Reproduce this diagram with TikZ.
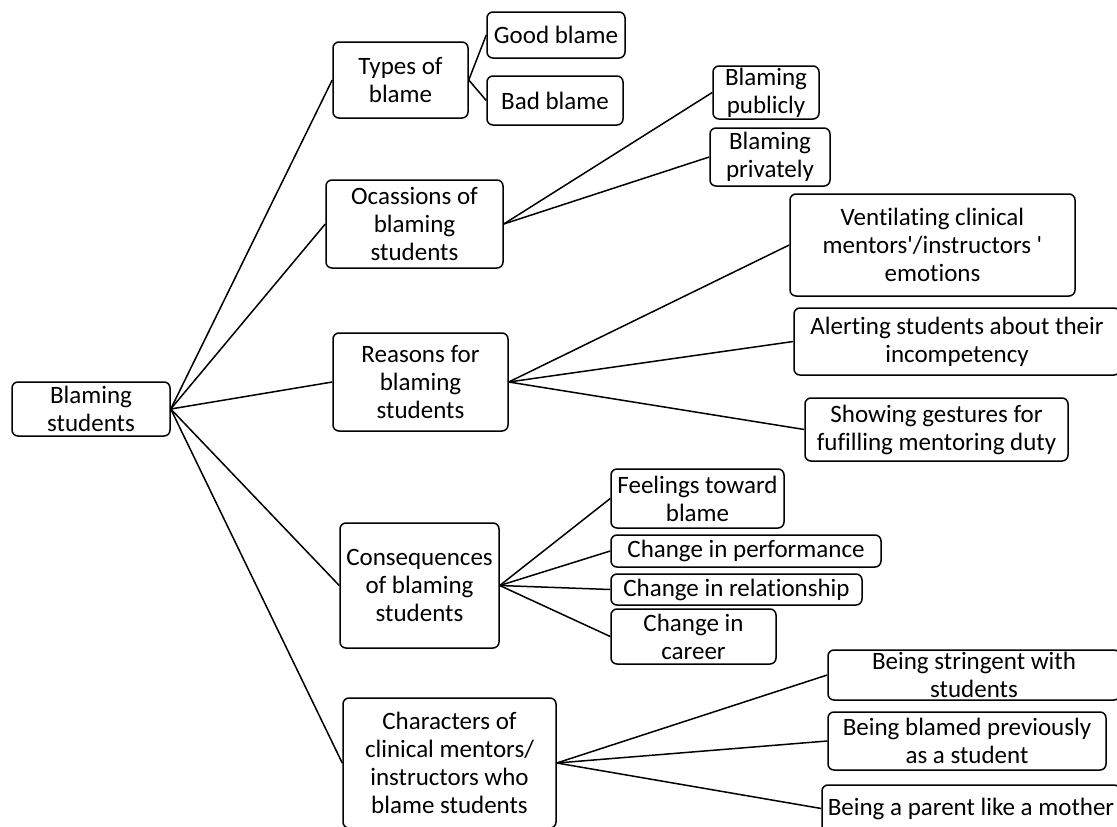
\documentclass[tikz,border=0pt]{standalone}
\usepackage{fontspec}
\setmainfont[Ligatures={NoCommon}]{Carlito}
\begin{document}
\begin{tikzpicture}[x=1pt,y=-1pt,
  box/.style={draw=black,line width=1.5pt,rounded corners=6pt,align=center,
    inner sep=0pt,font=\fontsize{25}{28}\selectfont},
  link/.style={draw=black,line width=1.5pt}]
\useasboundingbox (0,0) rectangle (1117,827);
\node[box,minimum width=158pt,minimum height=54pt] (root) at (91,409) {Blaming\\students};
\node[box,minimum width=135pt,minimum height=76pt] (types) at (400.5,80) {Types of\\blame};
\node[box,minimum width=138pt,minimum height=46pt] (good) at (556,35) {Good blame};
\node[box,minimum width=136pt,minimum height=49pt] (bad) at (555,100.5) {Bad blame};
\node[box,minimum width=177pt,minimum height=88pt] (occ) at (414.5,224) {Ocassions of\\blaming\\students};
\node[box,minimum width=106pt,minimum height=53pt] (pub) at (766,92.5) {Blaming\\publicly};
\node[box,minimum width=120pt,minimum height=58pt] (priv) at (770,157) {Blaming\\privately};
\node[box,minimum width=175pt,minimum height=98pt] (reas) at (420.5,382) {Reasons for\\blaming\\students};
\node[box,minimum width=285pt,minimum height=102pt] (vent) at (932.5,245) {Ventilating clinical\\mentors\textquotesingle/instructors \textquotesingle\\emotions};
\node[box,minimum width=326pt,minimum height=67pt] (alert) at (957,341.5) {Alerting students about their\\incompetency};
\node[box,minimum width=263pt,minimum height=63pt] (show) at (936.5,429.5) {Showing gestures for\\fufilling mentoring duty};
\node[box,minimum width=159pt,minimum height=125pt] (cons) at (419.5,585.5) {Consequences\\of blaming\\students};
\node[box,minimum width=173pt,minimum height=59pt] (feel) at (697.5,498.5) {Feelings toward\\blame};
\node[box,minimum width=270pt,minimum height=32pt] (perf) at (746,551) {Change in performance};
\node[box,minimum width=251pt,minimum height=31pt] (rel) at (736.5,589.5) {Change in relationship};
\node[box,minimum width=165pt,minimum height=55pt] (car) at (693.5,636.5) {Change in\\career};
\node[box,minimum width=213pt,minimum height=130pt] (char) at (449.5,763) {Characters of\\clinical mentors/\\instructors who\\blame students};
\node[box,minimum width=292pt,minimum height=50pt] (str) at (974,675) {Being stringent with\\students};
\node[box,minimum width=278pt,minimum height=58pt] (prev) at (967,741) {Being blamed previously\\as a student};
\node[box,minimum width=298pt,minimum height=47pt] (par) at (971,808.5) {Being a parent like a mother};
\foreach \c in {types,occ,reas,cons,char} \draw[link] (root.east) -- (\c.west);
\draw[link] (types.east) -- (good.west);
\draw[link] (types.east) -- (bad.west);
\draw[link] (occ.east) -- (pub.west);
\draw[link] (occ.east) -- (priv.west);
\draw[link] (reas.east) -- (vent.west);
\draw[link] (reas.east) -- (alert.west);
\draw[link] (reas.east) -- (show.west);
\draw[link] (cons.east) -- (feel.west);
\draw[link] (cons.east) -- (perf.west);
\draw[link] (cons.east) -- (rel.west);
\draw[link] (cons.east) -- (car.west);
\draw[link] (char.east) -- (str.west);
\draw[link] (char.east) -- (prev.west);
\draw[link] (char.east) -- (par.west);
\end{tikzpicture}
\end{document}
